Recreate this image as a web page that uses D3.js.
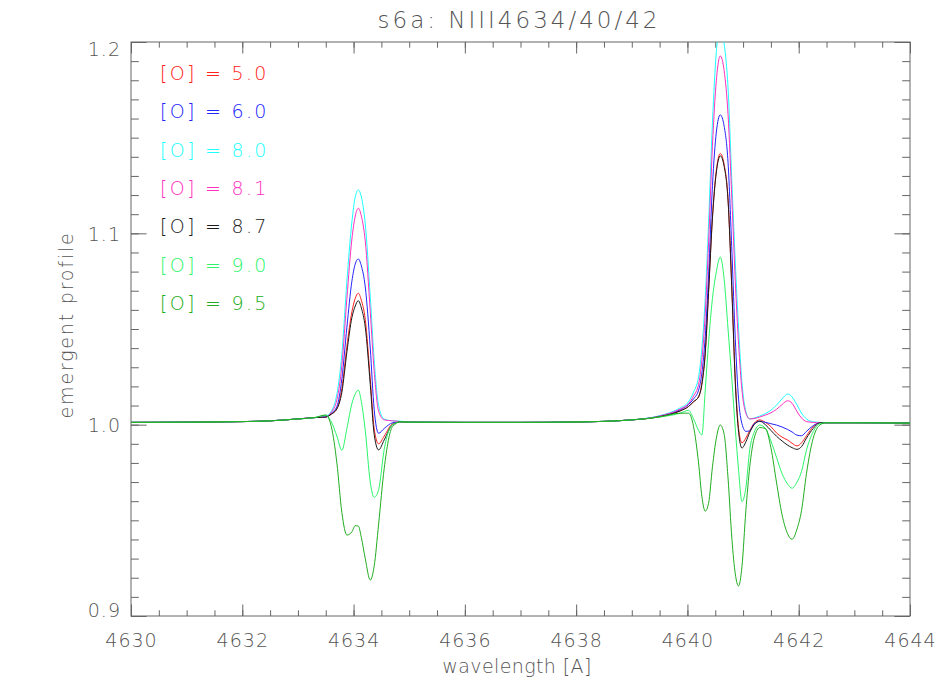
<!DOCTYPE html>
<html><head><meta charset="utf-8">
<script src="https://cdn.jsdelivr.net/npm/d3@7"></script>
<style>
body{margin:0;background:#fff}
text{font-family:"DejaVu Sans",sans-serif;font-weight:200}
</style>
</head><body>
<svg id="chart" width="950" height="700"></svg>
<script>
// ---- data ----
const wavelength = [
 4630, 4631, 4632, 4632.5, 4633, 4633.3,
 4633.5, 4633.6, 4633.7, 4633.79, 4633.88, 4633.97, 4634.03, 4634.085, 4634.14, 4634.21, 4634.3, 4634.37, 4634.45, 4634.55, 4634.7, 4634.85,
 4635, 4636, 4637, 4638, 4639,
 4639.5, 4639.87, 4640.02, 4640.11, 4640.2, 4640.26, 4640.32, 4640.38, 4640.45, 4640.52, 4640.59, 4640.66, 4640.73, 4640.8, 4640.86, 4640.92, 4640.98, 4641.05, 4641.12, 4641.2, 4641.3, 4641.4, 4641.5, 4641.6, 4641.7, 4641.8, 4641.88, 4641.97, 4642.05, 4642.14, 4642.26, 4642.38, 4642.5,
 4643, 4644];

const o5_0 = [1.0012,1.0013,1.0016,1.002,1.003,1.0037,
 1.004,1.0055,1.0085,1.019,1.041,1.059,1.066,1.0687,1.065,1.055,1.024,0.998,0.990,0.994,1.0005,1.0015,
 1.0013,1.0012,1.0012,1.0014,1.0025,
 1.0042,1.0072,1.0095,1.012,1.0145,1.022,1.038,1.070,1.109,1.133,1.1417,1.136,1.118,1.070,1.024,0.998,0.9905,0.993,0.997,1.0008,1.0025,1.0012,0.999,0.9957,0.9935,0.992,0.9903,0.9889,0.9905,0.9942,0.999,1.001,1.001,
 1.001,1.0008];
const o6_0 = [1.0012,1.0013,1.0016,1.002,1.003,1.0037,
 1.004,1.006,1.0095,1.024,1.051,1.075,1.084,1.0866,1.083,1.072,1.040,1.008,0.9955,0.998,1.001,1.0015,
 1.0013,1.0012,1.0012,1.0014,1.0025,
 1.0045,1.0078,1.0105,1.0135,1.018,1.027,1.046,1.078,1.125,1.153,1.1619,1.156,1.137,1.090,1.045,1.013,1.0005,0.9965,0.9968,1.0005,1.0018,1.0012,1.0005,0.9998,0.9988,0.9975,0.9962,0.9945,0.9942,0.9965,0.9995,1.001,1.001,
 1.001,1.0008];
const o8_0 = [1.0012,1.0013,1.0016,1.002,1.003,1.0037,
 1.0045,1.007,1.016,1.037,1.075,1.106,1.119,1.1227,1.119,1.105,1.067,1.034,1.010,1.003,1.002,1.0018,
 1.0013,1.0012,1.0012,1.0014,1.0025,
 1.0047,1.0088,1.012,1.017,1.025,1.040,1.066,1.105,1.158,1.195,1.208,1.199,1.176,1.126,1.085,1.050,1.022,1.007,1.003,1.0035,1.0045,1.0058,1.0075,1.0102,1.0135,1.016,1.0145,1.0103,1.006,1.003,1.0015,1.0012,1.001,
 1.001,1.0008];
const o8_1 = [1.0012,1.0013,1.0016,1.002,1.003,1.0037,
 1.004,1.0065,1.013,1.031,1.066,1.097,1.109,1.1131,1.109,1.096,1.059,1.028,1.007,1.0025,1.002,1.0016,
 1.0013,1.0012,1.0012,1.0014,1.0025,
 1.0045,1.0082,1.011,1.015,1.021,1.034,1.058,1.095,1.146,1.180,1.1927,1.185,1.162,1.117,1.075,1.042,1.018,1.006,1.003,1.0032,1.004,1.005,1.0062,1.008,1.0105,1.0125,1.0112,1.0068,1.0035,1.0016,1.0012,1.001,1.001,
 1.001,1.0008];
const o8_7 = [1.0012,1.0013,1.0016,1.002,1.003,1.0037,
 1.004,1.0055,1.0082,1.017,1.038,1.056,1.062,1.0648,1.061,1.051,1.021,0.995,0.9868,0.992,1.000,1.0015,
 1.0013,1.0012,1.0012,1.0014,1.0025,
 1.0042,1.0072,1.0095,1.012,1.0145,1.021,1.037,1.069,1.108,1.132,1.1405,1.135,1.117,1.069,1.022,0.996,0.9878,0.991,0.996,1.0,1.0018,1.0,0.997,0.994,0.9915,0.9893,0.988,0.9871,0.9885,0.993,0.998,1.001,1.001,
 1.001,1.0008];
const o9_0 = [1.0012,1.0013,1.0016,1.002,1.003,1.0037,
 1.005,1.0015,0.994,0.9866,0.998,1.011,1.016,1.0181,1.012,0.997,0.970,0.962,0.966,0.987,1.000,1.0015,
 1.0013,1.0012,1.0012,1.0014,1.0025,
 1.004,1.006,1.0075,1.003,0.997,0.9946,1.018,1.043,1.066,1.080,1.0876,1.076,1.050,1.023,0.998,0.976,0.9598,0.967,0.987,0.996,0.9998,0.9981,0.9915,0.983,0.9745,0.969,0.9668,0.970,0.9755,0.9868,0.9963,1.0005,1.001,
 1.001,1.0008];
const o9_5 = [1.0012,1.0013,1.0016,1.002,1.003,1.0037,
 1.005,0.999,0.980,0.954,0.9423,0.944,0.9472,0.947,0.941,0.930,0.9188,0.926,0.948,0.977,0.999,1.0015,
 1.0013,1.0012,1.0012,1.0014,1.0025,
 1.004,1.006,1.006,0.999,0.980,0.9624,0.9548,0.9589,0.978,0.993,0.9998,0.995,0.972,0.940,0.922,0.9157,0.9258,0.955,0.978,0.993,0.9985,0.998,0.988,0.970,0.953,0.943,0.9401,0.9455,0.955,0.9746,0.9929,0.9998,1.001,
 1.001,1.0008];

const seriesLabels = ["[O] = 5.0","[O] = 6.0","[O] = 8.0","[O] = 8.1","[O] = 8.7","[O] = 9.0","[O] = 9.5"];
const seriesValues = [o5_0, o6_0, o8_0, o8_1, o8_7, o9_0, o9_5];
const xMajorTicks = [4630, 4632, 4634, 4636, 4638, 4640, 4642, 4644];
const yMajorTicks = [0.9, 1.0, 1.1, 1.2];
const titleText = "s6a: NIII4634/40/42";
const xLabel = "wavelength [A]";
const yLabel = "emergent profile";

// ---- styles ----
const colors = ["#ff2020", "#2424ff", "#1affff", "#ff2fc0", "#1a1a1a", "#2af56a", "#20ad20"];
const axisColor = "#666", textColor = "#555";

const svg = d3.select("#chart");
const L = 131, R = 910, T = 42, B = 616;
const x = d3.scaleLinear().domain([4630, 4644]).range([L, R]);
const y = d3.scaleLinear().domain([0.9, 1.2]).range([B, T]);

const xMinor = d3.range(0, 29).map(i => 4630 + i * 0.5);
const yMinor = d3.range(0, 31).map(i => +(0.9 + i * 0.01).toFixed(2));

function styleAxis(g) {
  g.select(".domain").remove();
  g.selectAll("line").attr("stroke", axisColor).attr("stroke-width", 1);
  g.selectAll("text").attr("fill", textColor).style("font-size", "19px").style("letter-spacing", "1px").attr("font-family", null);
}

// bottom
svg.append("g").attr("transform", `translate(0,${B})`)
  .call(d3.axisBottom(x).tickValues(xMinor).tickSize(-5.7).tickFormat("")).call(styleAxis);
svg.append("g").attr("transform", `translate(0,${B})`)
  .call(d3.axisBottom(x).tickValues(xMajorTicks).tickSize(-11.5).tickPadding(18).tickFormat(d3.format("d"))).call(styleAxis);
// top
svg.append("g").attr("transform", `translate(0,${T})`)
  .call(d3.axisTop(x).tickValues(xMinor).tickSize(-5.7).tickFormat("")).call(styleAxis);
svg.append("g").attr("transform", `translate(0,${T})`)
  .call(d3.axisTop(x).tickValues(xMajorTicks).tickSize(-11.5).tickFormat("")).call(styleAxis);
// left
svg.append("g").attr("transform", `translate(${L},0)`)
  .call(d3.axisLeft(y).tickValues(yMinor).tickSize(-7.8).tickFormat("")).call(styleAxis);
const yl = svg.append("g").attr("transform", `translate(${L},0)`)
  .call(d3.axisLeft(y).tickValues(yMajorTicks).tickSize(-15.6).tickPadding(10).tickFormat(d3.format(".1f"))).call(styleAxis);
yl.selectAll(".tick text").attr("dy", d => d === 1.2 ? "0.7em" : d === 0.9 ? "0.05em" : "0.36em");
// right
svg.append("g").attr("transform", `translate(${R},0)`)
  .call(d3.axisRight(y).tickValues(yMinor).tickSize(-7.8).tickFormat("")).call(styleAxis);
svg.append("g").attr("transform", `translate(${R},0)`)
  .call(d3.axisRight(y).tickValues(yMajorTicks).tickSize(-15.6).tickFormat("")).call(styleAxis);

// frame
svg.append("rect").attr("x", L).attr("y", T).attr("width", R - L).attr("height", B - T)
  .attr("fill", "none").attr("stroke", axisColor).attr("stroke-width", 1);

// clip
svg.append("clipPath").attr("id", "plotclip").append("rect")
  .attr("x", L).attr("y", T).attr("width", R - L).attr("height", B - T);

const line = d3.line().x(d => x(d[0])).y(d => y(d[1])).curve(d3.curveMonotoneX);
const lines = svg.append("g").attr("clip-path", "url(#plotclip)");
seriesValues.forEach((vals, i) => {
  lines.append("path").datum(wavelength.map((w, j) => [w, vals[j]]))
    .attr("d", line).attr("fill", "none").attr("stroke", colors[i]).attr("stroke-width", 1);
});

// legend
seriesLabels.forEach((lab, i) => {
  svg.append("text").attr("x", 160).attr("y", 80 + i * 38.33)
    .attr("fill", colors[i]).style("font-size", "19px").style("letter-spacing", "2.3px")
    .text(lab);
});

// title and axis labels
svg.append("text").attr("x", 519).attr("y", 28).attr("text-anchor", "middle")
  .attr("fill", textColor).style("font-size", "23px").style("letter-spacing", "3px").text(titleText);
svg.append("text").attr("x", 517).attr("y", 673).attr("text-anchor", "middle")
  .attr("fill", textColor).style("font-size", "19px").style("letter-spacing", "0.4px").text(xLabel);
svg.append("text").attr("transform", "translate(73,325) rotate(-90)").attr("text-anchor", "middle")
  .attr("fill", textColor).style("font-size", "19px").style("letter-spacing", "1.8px").text(yLabel);
</script>
</body></html>
